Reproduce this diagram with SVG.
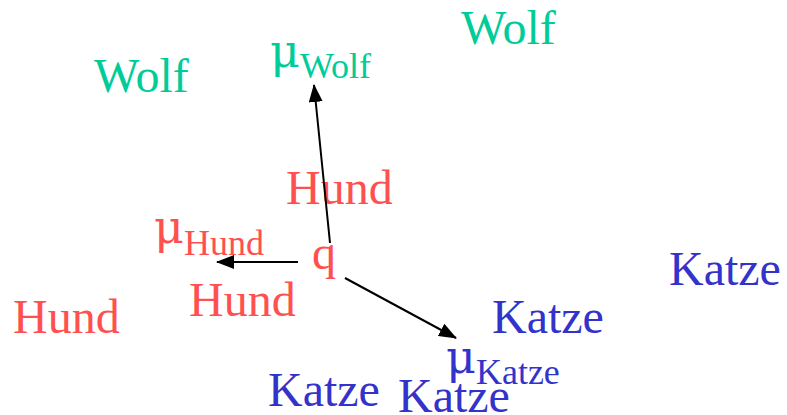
<svg xmlns="http://www.w3.org/2000/svg" width="787" height="415" viewBox="0 0 787 415">
<style>
text{font-family:"Liberation Serif","Times New Roman",serif;font-size:48px}
.g{fill:#00CC99}.r{fill:#FF5050}.b{fill:#3333CC}
.s{font-size:36px}
.mu{font-family:"DejaVu Serif",serif;font-size:46px}
.c line{stroke:#000;stroke-width:2}
</style>
<defs>
<marker id="ahL" markerWidth="18" markerHeight="14" refX="17" refY="7" orient="auto" markerUnits="userSpaceOnUse" viewBox="0 0 18 14"><path d="M0,0L18,7L0,14z" fill="#000"/></marker></defs>
<g id="wolf1"><text class="g" x="94" y="92">Wolf</text></g>
<g id="wolf2"><text class="g" x="461" y="44">Wolf</text></g>
<g id="muWolf"><text class="g" x="270" y="67"><tspan class="mu">μ</tspan><tspan class="s" dy="11">Wolf</tspan></text></g>
<g id="hund1"><text class="r" x="286" y="204">Hund</text></g>
<g id="hund2"><text class="r" x="189" y="316">Hund</text></g>
<g id="hund3"><text class="r" x="13" y="333">Hund</text></g>
<g id="muHund"><text class="r" x="154" y="243"><tspan class="mu">μ</tspan><tspan class="s" dy="12">Hund</tspan></text></g>
<g id="q"><text class="r" x="312" y="269">q</text></g>
<g id="katze1"><text class="b" x="669" y="285">Katze</text></g>
<g id="katze2"><text class="b" x="492" y="333">Katze</text></g>
<g id="katze3"><text class="b" x="268" y="406">Katze</text></g>
<g id="katze4"><text class="b" x="398" y="412">Katze</text></g>
<g id="muKatze"><text class="b" x="446" y="373"><tspan class="mu">μ</tspan><tspan class="s" dy="11">Katze</tspan></text></g>
<g id="connectors" class="c">
<line x1="330" y1="243" x2="314" y2="85" marker-end="url(#ahL)"/>
<line x1="298" y1="262" x2="217" y2="262" marker-end="url(#ahL)"/>
<line x1="345" y1="278" x2="456" y2="338" marker-end="url(#ahL)"/>
</g>
</svg>
